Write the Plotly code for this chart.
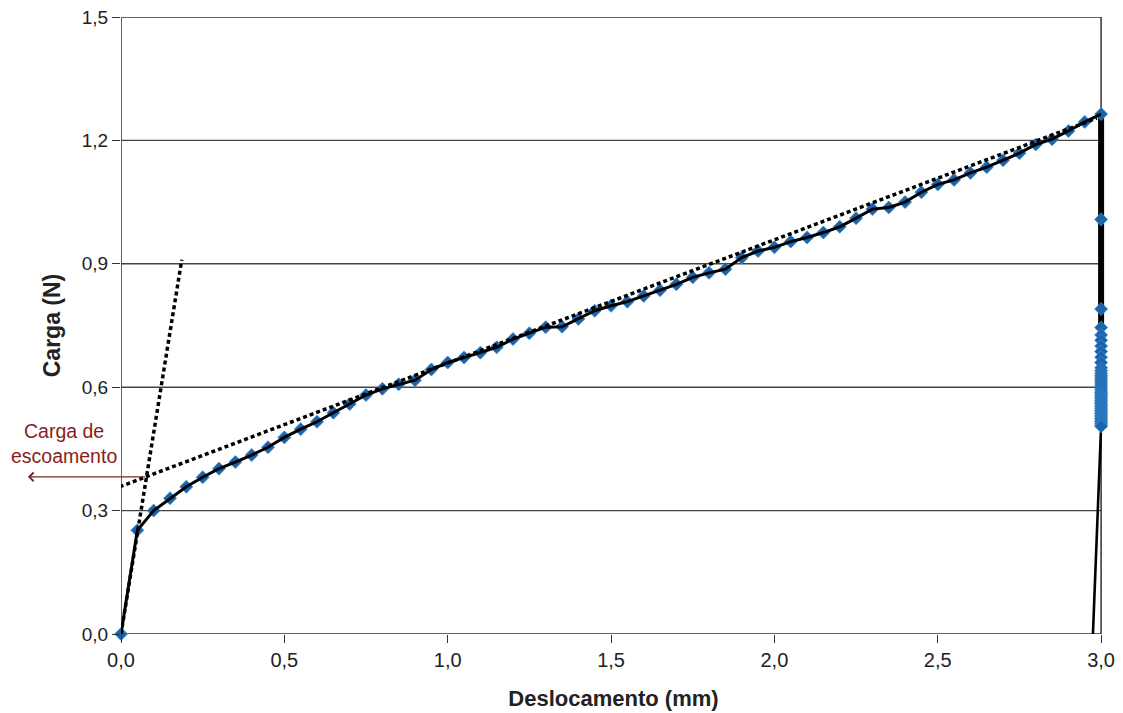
import plotly.graph_objects as go

# ---- data ----
load_x = [0.00, 0.05, 0.10, 0.15, 0.20, 0.25, 0.30, 0.35, 0.40, 0.45,
          0.50, 0.55, 0.60, 0.65, 0.70, 0.75, 0.80, 0.85, 0.90, 0.95,
          1.00, 1.05, 1.10, 1.15, 1.20, 1.25, 1.30, 1.35, 1.40, 1.45,
          1.50, 1.55, 1.60, 1.65, 1.70, 1.75, 1.80, 1.85, 1.90, 1.95,
          2.00, 2.05, 2.10, 2.15, 2.20, 2.25, 2.30, 2.35, 2.40, 2.45,
          2.50, 2.55, 2.60, 2.65, 2.70, 2.75, 2.80, 2.85, 2.90, 2.95, 3.00]
load_y = [0.000, 0.252, 0.300, 0.330, 0.358, 0.381, 0.402, 0.418, 0.435, 0.454,
          0.478, 0.498, 0.516, 0.538, 0.559, 0.581, 0.596, 0.607, 0.617, 0.643,
          0.660, 0.672, 0.684, 0.697, 0.717, 0.731, 0.746, 0.747, 0.766, 0.786,
          0.798, 0.808, 0.822, 0.836, 0.850, 0.867, 0.878, 0.887, 0.915, 0.931,
          0.940, 0.954, 0.964, 0.976, 0.990, 1.011, 1.033, 1.037, 1.050, 1.074,
          1.093, 1.104, 1.121, 1.135, 1.152, 1.169, 1.190, 1.203, 1.223, 1.245, 1.264]

unload_y = [1.264, 1.008, 0.790, 0.745, 0.727, 0.714, 0.700, 0.687, 0.673, 0.660,
            0.647, 0.640, 0.634, 0.628, 0.623, 0.618, 0.613, 0.608, 0.603, 0.598,
            0.593, 0.588, 0.584, 0.580, 0.576, 0.572, 0.568, 0.564, 0.560, 0.556,
            0.552, 0.548, 0.544, 0.540, 0.536, 0.532, 0.528, 0.524, 0.520, 0.516,
            0.512, 0.508, 0.505]
unload_x = [3.00] * len(unload_y)

tail_x = [3.000, 2.975]
tail_y = [0.505, 0.000]

# tangent construction lines
elastic_x = [0.000, 0.186]
elastic_y = [0.000, 0.910]
plastic_x = [-0.024, 2.987]
plastic_y = [0.352, 1.254]

yield_x = 0.078
yield_y = 0.382

x_ticks = [0.0, 0.5, 1.0, 1.5, 2.0, 2.5, 3.0]
y_ticks = [0.0, 0.3, 0.6, 0.9, 1.2, 1.5]
x_min, x_max = 0.0, 3.0
y_min, y_max = 0.0, 1.5

all_x = load_x + unload_x[1:]
all_y = load_y + unload_y[1:]

fig = go.Figure()

# thick unloading band
fig.add_trace(go.Scatter(x=unload_x, y=unload_y, mode="lines",
                         line=dict(color="black", width=6), hoverinfo="skip"))
# tail to zero
fig.add_trace(go.Scatter(x=tail_x, y=tail_y, mode="lines",
                         line=dict(color="black", width=2.6), hoverinfo="skip"))
# markers
fig.add_trace(go.Scatter(x=all_x, y=all_y, mode="markers", cliponaxis=False,
                         marker=dict(symbol="diamond", size=10, color="#1b63ab",
                                     line=dict(color="#3a8ad0", width=0.8))))
# main curve line
fig.add_trace(go.Scatter(x=load_x, y=load_y, mode="lines",
                         line=dict(color="black", width=3), hoverinfo="skip"))
# dotted tangent lines
fig.add_trace(go.Scatter(x=elastic_x, y=elastic_y, mode="lines",
                         line=dict(color="black", width=3.5, dash="4px,3px")))
fig.add_trace(go.Scatter(x=plastic_x, y=plastic_y, mode="lines",
                         line=dict(color="black", width=3.5, dash="4px,3px")))

# gridlines and frame (stop at x = 3.0)
for yv in y_ticks[1:-1]:
    fig.add_shape(type="line", x0=x_min, x1=x_max, y0=yv, y1=yv,
                  xref="x", yref="y", layer="below",
                  line=dict(color="#444444", width=1.4))
fig.add_shape(type="rect", x0=x_min, x1=x_max, y0=y_min, y1=y_max,
              xref="x", yref="y", layer="below",
              line=dict(color="#333333", width=1.5))

# arrow for "Carga de escoamento"
fig.add_annotation(x=-0.285, y=yield_y, xref="x", yref="y",
                   ax=yield_x, ay=yield_y, axref="x", ayref="y",
                   text="", showarrow=True, arrowhead=4, arrowsize=1.3,
                   arrowwidth=1.3, arrowcolor="#7a2626")
fig.add_annotation(x=-0.058, y=0.308, xref="paper", yref="paper",
                   text="Carga de<br>escoamento", showarrow=False,
                   font=dict(family="Liberation Sans, Arial, sans-serif",
                             size=19.5, color="#8a1c1c"),
                   align="center", xanchor="center", yanchor="middle")

fig.update_layout(
    width=1123, height=713,
    margin=dict(l=121, r=17, t=17, b=79, autoexpand=False),
    paper_bgcolor="white", plot_bgcolor="white",
    showlegend=False,
    separators=",.",
    xaxis=dict(range=[x_min, x_max + 0.015], tickvals=x_ticks, tickformat=".1f",
               showgrid=False, zeroline=False, showline=False, automargin=False,
               ticks="outside", ticklen=8, tickwidth=1.2, tickcolor="#333333",
               tickfont=dict(family="Liberation Sans Narrow, Arial Narrow, sans-serif",
                             size=20, color="#222222"),
               title=dict(text="<b>Deslocamento (mm)</b>",
                          font=dict(family="Liberation Sans Narrow, Arial Narrow, sans-serif",
                                    size=22, color="#222222"),
                          standoff=20)),
    yaxis=dict(range=[y_min, y_max], tickvals=y_ticks, tickformat=".1f",
               showgrid=False, zeroline=False, showline=False, automargin=False,
               ticks="outside", ticklen=8, tickwidth=1.2, tickcolor="#333333",
               tickfont=dict(family="Liberation Sans, Arial, sans-serif",
                             size=19, color="#222222"),
               title=dict(text="<b>Carga (N)</b>",
                          font=dict(family="Liberation Sans, Arial, sans-serif",
                                    size=23, color="#222222"),
                          standoff=14)),
)

fig.write_html("out.html")
